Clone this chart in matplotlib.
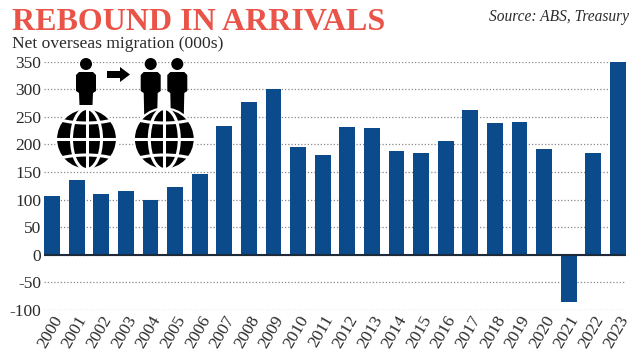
#!/usr/bin/env python3
"""Net overseas migration bar chart."""

import matplotlib

matplotlib.use("Agg")
import matplotlib.pyplot as plt
from matplotlib.patches import Circle, Ellipse, Polygon

WIDTH = 642
HEIGHT = 357
SERIF = ["Liberation Serif", "DejaVu Serif"]
BLUE = "#0b4a8b"
TEXT = "#2b2b2b"

years = list(range(2000, 2024))
arrivals = [106, 135, 110, 115, 100, 123, 146, 233, 277, 300, 196, 180,
            232, 230, 188, 184, 206, 263, 238, 241, 192, -85, 184, 350]
y_ticks = [-100, -50, 0, 50, 100, 150, 200, 250, 300, 350]


def _draw_person(ax, cx, bottom):
    ax.add_patch(Circle((cx, 64), 6, color="black", lw=0))
    ax.add_patch(Polygon(
        [(cx - 10, 75), (cx - 7, 72), (cx + 7, 72), (cx + 10, 75),
         (cx + 10, 91), (cx + 7, 93), (cx + 6.5, bottom), (cx - 6.5, bottom),
         (cx - 7, 93), (cx - 10, 91)],
        closed=True, color="black", lw=0, zorder=2))


def _draw_globe(ax, cx, cy, r):
    globe = Circle((cx, cy), r, fc="black", ec="white", lw=1.6, zorder=3)
    ax.add_patch(globe)
    clip = Circle((cx, cy), r, transform=ax.transData)
    lines = [
        ax.plot([cx - r, cx + r], [cy, cy], color="white", lw=2.2, zorder=4)[0],
        ax.plot([cx, cx], [cy - r, cy + r], color="white", lw=2.2, zorder=4)[0],
        ax.add_patch(Ellipse((cx, cy), 30, r * 2, fill=False, ec="white", lw=2.2, zorder=4)),
        ax.add_patch(Ellipse((cx, cy - 26), 72, 20, fill=False, ec="white", lw=2.2, zorder=4)),
        ax.add_patch(Ellipse((cx, cy + 26), 72, 20, fill=False, ec="white", lw=2.2, zorder=4)),
    ]
    for line in lines:
        line.set_clip_path(clip)


def main() -> int:
    plt.rcParams["font.family"] = SERIF
    plt.rcParams["axes.unicode_minus"] = False
    fig = plt.figure(figsize=(WIDTH / 100, HEIGHT / 100), dpi=100)

    # plot area in pixels: x 44..626, y 61.5 (350) .. 310 (-100)
    ax = fig.add_axes([44 / WIDTH, 1 - 310 / HEIGHT, 582 / WIDTH, 248.5 / HEIGHT])
    ax.bar(range(len(years)), arrivals, width=0.64, color=BLUE, zorder=3)
    ax.axhline(0, color="#1c2a3a", lw=1.5, zorder=4)
    ax.set_xlim(-0.33, len(years) - 0.67)
    ax.set_ylim(-100, 350)
    ax.set_yticks(y_ticks)
    ax.set_xticks(range(len(years)))
    ax.set_xticklabels(years, rotation=60, ha="right", rotation_mode="anchor")
    ax.tick_params(axis="y", length=0, pad=2, labelsize=12.5, labelcolor=TEXT)
    ax.tick_params(axis="x", length=0, pad=2, labelsize=12.5, labelcolor=TEXT)
    ax.grid(axis="y", color="#8a8a8a", lw=0.9, ls=(0, (1, 1.6)), zorder=1)
    for spine in ax.spines.values():
        spine.set_visible(False)

    # overlay in pixel coordinates for the title block and pictogram
    over = fig.add_axes([0, 0, 1, 1], zorder=5)
    over.set_xlim(0, WIDTH)
    over.set_ylim(HEIGHT, 0)
    over.axis("off")
    over.patch.set_alpha(0)

    over.text(12, 29.5, "REBOUND IN ARRIVALS", color="#ea5348", fontsize=23, fontweight="bold", va="baseline")
    over.text(12, 47.5, "Net overseas migration (000s)", color=TEXT, fontsize=12.6, va="baseline")
    over.text(629, 21, "Source: ABS, Treasury", color=TEXT, fontsize=11.2, style="italic", ha="right", va="baseline")

    _draw_person(over, 86, 105)
    _draw_person(over, 150.7, 115)
    _draw_person(over, 177.3, 115)
    _draw_globe(over, 86.5, 139, 30.5)
    _draw_globe(over, 164.3, 139, 30.5)
    over.add_patch(Polygon(
        [(107, 71), (120, 71), (120, 67), (130, 74.5), (120, 82), (120, 78), (107, 78)],
        closed=True, color="black", lw=0))

    fig.savefig("out.png", dpi=100, facecolor="white")
    plt.close(fig)
    return 0


if __name__ == "__main__":
    raise SystemExit(main())
